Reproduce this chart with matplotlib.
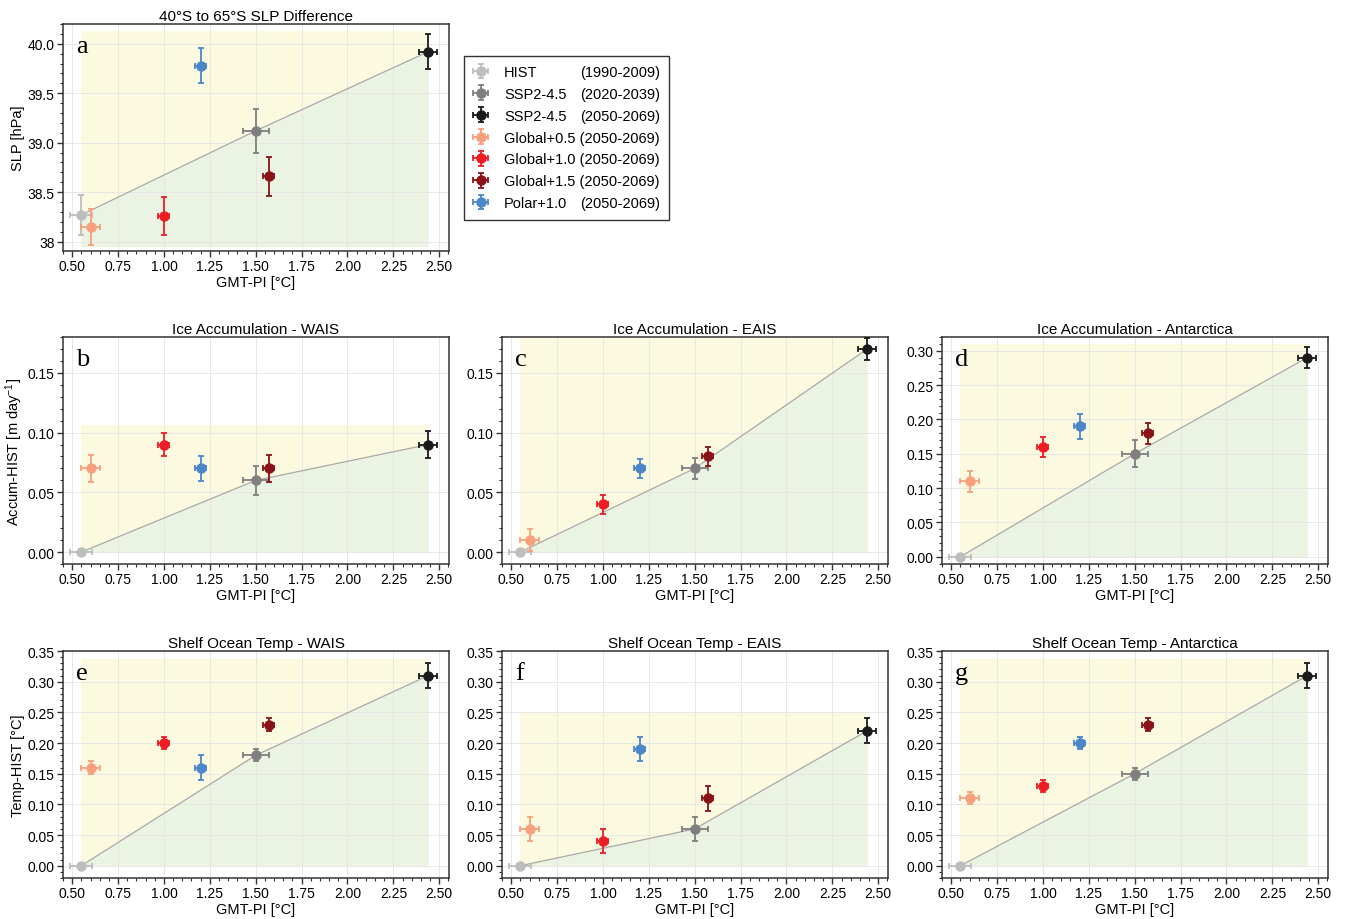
import matplotlib
matplotlib.use('Agg')
import matplotlib.pyplot as plt
from matplotlib.ticker import MultipleLocator, FixedLocator, FixedFormatter
from matplotlib.transforms import IdentityTransform

plt.rcParams['font.family'] = ['Liberation Sans', 'DejaVu Sans']
plt.rcParams['mathtext.default'] = 'regular'

# ---------------- data ----------------
scenarios = ['HIST', 'SSP2-4.5', 'SSP2-4.5', 'Global+0.5', 'Global+1.0', 'Global+1.5', 'Polar+1.0']
periods = ['(1990-2009)', '(2020-2039)', '(2050-2069)', '(2050-2069)', '(2050-2069)', '(2050-2069)', '(2050-2069)']
colors = ['#bdbdbd', '#7f7f7f', '#1a1a1a', '#f7a07e', '#ee1c24', '#8a1219', '#4a86c8']

gmt = [0.55, 1.50, 2.44, 0.60, 1.00, 1.57, 1.20]
gmt_err = [0.06, 0.07, 0.05, 0.05, 0.03, 0.03, 0.03]

slp = [38.27, 39.12, 39.92, 38.15, 38.26, 38.66, 39.78]
slp_err = [0.20, 0.22, 0.18, 0.18, 0.19, 0.20, 0.18]

acc_wais = [0.00, 0.06, 0.09, 0.07, 0.09, 0.07, 0.07]
acc_wais_err = [0.0, 0.012, 0.011, 0.011, 0.010, 0.011, 0.0105]

acc_eais = [0.00, 0.07, 0.17, 0.01, 0.04, 0.08, 0.07]
acc_eais_err = [0.0, 0.009, 0.009, 0.009, 0.008, 0.008, 0.008]

acc_ant = [0.00, 0.15, 0.29, 0.11, 0.16, 0.18, 0.19]
acc_ant_err = [0.0, 0.020, 0.015, 0.015, 0.015, 0.0155, 0.018]

temp_wais = [0.00, 0.18, 0.31, 0.16, 0.20, 0.23, 0.16]
temp_wais_err = [0.0, 0.01, 0.02, 0.01, 0.01, 0.01, 0.02]

temp_eais = [0.00, 0.06, 0.22, 0.06, 0.04, 0.11, 0.19]
temp_eais_err = [0.0, 0.02, 0.02, 0.02, 0.02, 0.02, 0.02]

temp_ant = [0.00, 0.15, 0.31, 0.11, 0.13, 0.23, 0.20]
temp_ant_err = [0.0, 0.01, 0.02, 0.01, 0.01, 0.01, 0.01]

titles = ['40°S to 65°S SLP Difference',
          'Ice Accumulation - WAIS', 'Ice Accumulation - EAIS', 'Ice Accumulation - Antarctica',
          'Shelf Ocean Temp - WAIS', 'Shelf Ocean Temp - EAIS', 'Shelf Ocean Temp - Antarctica']
letters = ['a', 'b', 'c', 'd', 'e', 'f', 'g']
ylabels = ['SLP [hPa]', 'Accum-HIST [m day$^{-1}$]', '', '', 'Temp-HIST [°C]', '', '']
xlabel = 'GMT-PI [°C]'

panel_values = [slp, acc_wais, acc_eais, acc_ant, temp_wais, temp_eais, temp_ant]
panel_errors = [slp_err, acc_wais_err, acc_eais_err, acc_ant_err, temp_wais_err, temp_eais_err, temp_ant_err]

xticks = [0.50, 0.75, 1.00, 1.25, 1.50, 1.75, 2.00, 2.25, 2.50]
yticks_a = [38.0, 38.5, 39.0, 39.5, 40.0]
yticklabels_a = ['38', '38.5', '39.0', '39.5', '40.0']

# ---------------- layout ----------------
W, H = 1346, 920
fig = plt.figure(figsize=(W / 100, H / 100), dpi=100)

col_left = [63, 502, 942]
row_top = [25, 338, 652]
ax_w, ax_h = 386, 227

def make_ax(col, row):
    l = col_left[col] / W
    b = 1 - (row_top[row] + ax_h) / H
    return fig.add_axes([l, b, ax_w / W, ax_h / H])

positions = [(0, 0), (0, 1), (1, 1), (2, 1), (0, 2), (1, 2), (2, 2)]
ylims = [(37.905, 40.2), (-0.01, 0.18), (-0.01, 0.18), (-0.0105, 0.32),
         (-0.02, 0.35), (-0.02, 0.35), (-0.02, 0.35)]
ytick_sets = [None, [0, 0.05, 0.10, 0.15], [0, 0.05, 0.10, 0.15],
              [0, 0.05, 0.10, 0.15, 0.20, 0.25, 0.30],
              [0, 0.05, 0.10, 0.15, 0.20, 0.25, 0.30, 0.35],
              [0, 0.05, 0.10, 0.15, 0.20, 0.25, 0.30, 0.35],
              [0, 0.05, 0.10, 0.15, 0.20, 0.25, 0.30, 0.35]]
fill_top = [40.125, 0.1064, 0.19, 0.31, 0.3375, 0.249, 0.3375]
fill_bot = [37.95, 0.0, 0.0, 0.0, 0.0, 0.0, 0.0]

yellow = '#fcf9e1'
green = '#ebf4e3'
spine_c = '#333333'

handles = []
for k in range(7):
    ax = make_ax(*positions[k])
    vals = panel_values[k]
    errs = panel_errors[k]

    x_line = [gmt[0], gmt[1], gmt[2]]
    y_line = [vals[0], vals[1], vals[2]]
    ax.fill_between([gmt[0], gmt[2]], fill_bot[k], fill_top[k], color=yellow, lw=0, zorder=0.2)
    ax.fill_between(x_line, y_line, fill_bot[k], color=green, lw=0, zorder=0.3)
    ax.plot(x_line, y_line, color='#a8a8a8', lw=0.9, zorder=1.5)

    for i in range(7):
        h = ax.errorbar(gmt[i], vals[i], xerr=gmt_err[i], yerr=errs[i], fmt='o',
                        color=colors[i], ms=6.5, capsize=2.2, elinewidth=1.3,
                        capthick=1.3, zorder=3)
        if k == 0:
            handles.append(h)

    ax.set_xlim(0.45, 2.553)
    ax.set_ylim(*ylims[k])
    ax.xaxis.set_major_locator(FixedLocator(xticks))
    ax.xaxis.set_major_formatter(FixedFormatter(['%.2f' % t for t in xticks]))
    ax.xaxis.set_minor_locator(MultipleLocator(0.05))
    if k == 0:
        ax.yaxis.set_major_locator(FixedLocator(yticks_a))
        ax.yaxis.set_major_formatter(FixedFormatter(yticklabels_a))
        ax.yaxis.set_minor_locator(MultipleLocator(0.1))
    else:
        ax.yaxis.set_major_locator(FixedLocator(ytick_sets[k]))
        ax.yaxis.set_major_formatter(FixedFormatter(['%.2f' % t for t in ytick_sets[k]]))
        ax.yaxis.set_minor_locator(MultipleLocator(0.01))

    ax.set_axisbelow(True)
    ax.grid(True, which='major', color='#e4e4e4', lw=0.6)
    ax.tick_params(which='major', direction='out', length=4, width=1, labelsize=10,
                   color=spine_c, pad=2)
    ax.tick_params(which='minor', direction='out', length=2, width=0.8, color=spine_c)
    for sp in ax.spines.values():
        sp.set_color(spine_c)
        sp.set_linewidth(1.1)

    ax.set_title(titles[k], fontsize=11, pad=3)
    ax.set_xlabel(xlabel, fontsize=10.5, labelpad=1)
    if ylabels[k]:
        ax.set_ylabel(ylabels[k], fontsize=10.5, labelpad=2)
    ax.text(0.033, 0.875, letters[k], transform=ax.transAxes, fontsize=19,
            family=['Liberation Serif', 'DejaVu Serif'], ha='left', va='baseline', zorder=5)

# ---------------- legend ----------------
labels_full = ['%s %s' % (s, p) for s, p in zip(scenarios, periods)]
leg = fig.legend(handles, labels_full, loc='upper left',
                 bbox_to_anchor=(464 / W, 1 - 56.5 / H), borderaxespad=0,
                 fontsize=10.5, frameon=True, fancybox=False, framealpha=1,
                 edgecolor='#333333', handlelength=1.0, handletextpad=1.1,
                 borderpad=0.65, labelspacing=0.54)
leg.get_frame().set_linewidth(1.0)
leg.set_zorder(5)

fig.canvas.draw()
renderer = fig.canvas.get_renderer()
texts = leg.get_texts()
bbs = [t.get_window_extent(renderer) for t in texts]
right = max(bb.x1 for bb in bbs)
for t, bb, s, p in zip(texts, bbs, scenarios, periods):
    if bb.x1 < right - 0.5:
        t.set_text(s)
        fig.text(right, bb.y0, p, transform=IdentityTransform(), ha='right', va='bottom',
                 fontsize=10.5, zorder=20)

fig.savefig('out.png', dpi=100)
